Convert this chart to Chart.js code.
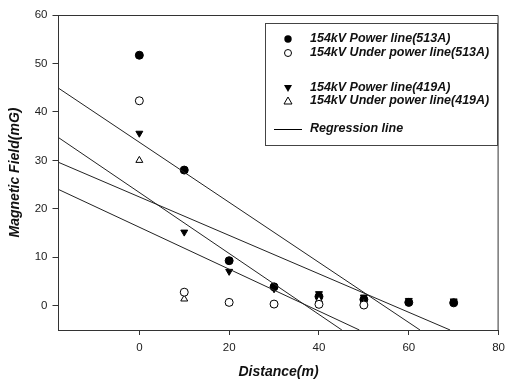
<!DOCTYPE html>
<html>
<head>
<meta charset="utf-8">
<script src="https://cdn.jsdelivr.net/npm/chart.js@4.4.1/dist/chart.umd.min.js"></script>
<style>
  body { margin: 0; background: #fff; }
  canvas { display: block; }
</style>
</head>
<body>
<canvas id="field" width="511" height="383"></canvas>
<script>
// data
const distance = [0, 10, 20, 30, 40, 50, 60, 70];
const power513 = [51.7, 28.0, 9.3, 3.9, 1.9, 1.3, 0.7, 0.6];
const under513 = [42.3, 2.8, 0.7, 0.35, 0.3, 0.15];
const power419 = [35.6, 15.2, 7.1, 3.5, 2.5, 1.8, 1.1, 1.0];
const under419 = [30.0, 1.4, 0.6, 0.35, 1.2, 0.5];

// regression lines, as start / end points
const regStartX = [-18, -18, -18, -18];
const regStartY = [44.9, 34.7, 29.6, 24.0];
const regEndX = [62.5, 45.1, 69.2, 49.0];
const regEndY = [-5, -5, -5, -5];

const xTicks = [0, 20, 40, 60, 80];
const yTicks = [0, 10, 20, 30, 40, 50, 60];

const labels = [
  '154kV Power line(513A)',
  '154kV Under power line(513A)',
  '154kV Power line(419A)',
  '154kV Under power line(419A)',
  'Regression line'
];

Chart.defaults.font.family = '"Liberation Sans", Arial, sans-serif';

function pts(ys) {
  return ys.map((y, i) => ({ x: distance[i], y: y }));
}

let datasets = [];
for (let i = 0; i < regStartY.length; i++) {
  datasets.push({
    type: 'line',
    label: 'reg' + i,
    data: [{ x: regStartX[i], y: regStartY[i] }, { x: regEndX[i], y: regEndY[i] }],
    borderColor: '#222',
    borderWidth: 1,
    pointRadius: 0,
    fill: false
  });
}
const markerSets = [
  { data: under513, style: 'circle', bg: '#fff', rot: 0 },
  { data: under419, style: 'triangle', bg: '#fff', rot: 0 },
  { data: power513, style: 'circle', bg: '#000', rot: 0 },
  { data: power419, style: 'triangle', bg: '#000', rot: 180 }
];
markerSets.forEach((m, i) => {
  datasets.push({
    type: 'scatter',
    label: 'm' + i,
    data: pts(m.data),
    pointStyle: m.style,
    pointRotation: m.rot,
    pointRadius: 4,
    pointHoverRadius: 4,
    pointBackgroundColor: m.bg,
    pointBorderColor: '#000',
    pointBorderWidth: 1
  });
});

// frame on top/right and the boxed legend
const framePlugin = {
  id: 'frame',
  afterDatasetsDraw(chart) {
    const ctx = chart.ctx;
    const a = chart.chartArea;
    ctx.save();
    ctx.strokeStyle = '#333';
    ctx.lineWidth = 1;
    ctx.beginPath();
    ctx.moveTo(a.left, a.top + 0.5);
    ctx.lineTo(a.right - 0.5, a.top + 0.5);
    ctx.lineTo(a.right - 0.5, a.bottom);
    ctx.stroke();

    // legend box
    ctx.fillStyle = '#fff';
    ctx.fillRect(265, 23, 232, 122);
    ctx.strokeStyle = '#444';
    ctx.strokeRect(265.5, 23.5, 232, 122);

    const rows = [39, 53, 88, 101, 129];
    const sx = 288;
    ctx.fillStyle = '#111';
    ctx.font = 'italic bold 12.5px "Liberation Sans", Arial, sans-serif';
    ctx.textBaseline = 'middle';
    labels.forEach((t, i) => ctx.fillText(t, 310, rows[i]));

    ctx.strokeStyle = '#000';
    ctx.fillStyle = '#000';
    ctx.beginPath(); ctx.arc(sx, rows[0], 3.7, 0, Math.PI * 2); ctx.fill();
    ctx.beginPath(); ctx.arc(sx, rows[1], 3.5, 0, Math.PI * 2); ctx.stroke();
    ctx.beginPath();
    ctx.moveTo(sx - 4, rows[2] - 3); ctx.lineTo(sx + 4, rows[2] - 3); ctx.lineTo(sx, rows[2] + 4);
    ctx.closePath(); ctx.fill();
    ctx.beginPath();
    ctx.moveTo(sx - 4, rows[3] + 3); ctx.lineTo(sx + 4, rows[3] + 3); ctx.lineTo(sx, rows[3] - 4);
    ctx.closePath(); ctx.stroke();
    ctx.beginPath();
    ctx.moveTo(274, rows[4] + 0.5); ctx.lineTo(302, rows[4] + 0.5); ctx.stroke();
    ctx.restore();
  }
};

new Chart(document.getElementById('field'), {
  data: { datasets: datasets },
  options: {
    responsive: false,
    animation: false,
    devicePixelRatio: 1,
    layout: { padding: { top: 15, right: 7, left: 0, bottom: 0 } },
    plugins: { legend: { display: false }, tooltip: { enabled: false } },
    scales: {
      x: {
        type: 'linear',
        min: -18,
        max: 80,
        afterBuildTicks: s => { s.ticks = xTicks.map(v => ({ value: v })); },
        afterFit: s => { s.height = 53; },
        grid: { drawOnChartArea: false, tickLength: 5, color: '#333' },
        border: { color: '#333', width: 1 },
        ticks: { color: '#222', font: { size: 11.5 }, padding: 6, maxRotation: 0 },
        title: {
          display: true,
          text: 'Distance(m)',
          color: '#111',
          font: { size: 14, weight: 'bold', style: 'italic' },
          padding: { top: 0, bottom: 2 }
        }
      },
      y: {
        type: 'linear',
        min: -5,
        max: 60,
        afterBuildTicks: s => { s.ticks = yTicks.map(v => ({ value: v })); },
        afterFit: s => { s.width = 58.5; },
        grid: { drawOnChartArea: false, tickLength: 6, color: '#333' },
        border: { color: '#333', width: 1 },
        ticks: { color: '#222', font: { size: 11.5 }, padding: 5 },
        title: {
          display: true,
          text: 'Magnetic Field(mG)',
          color: '#111',
          font: { size: 14, weight: 'bold', style: 'italic' },
          padding: { top: 7, bottom: 0 }
        }
      }
    }
  },
  plugins: [framePlugin]
});
</script>
</body>
</html>
